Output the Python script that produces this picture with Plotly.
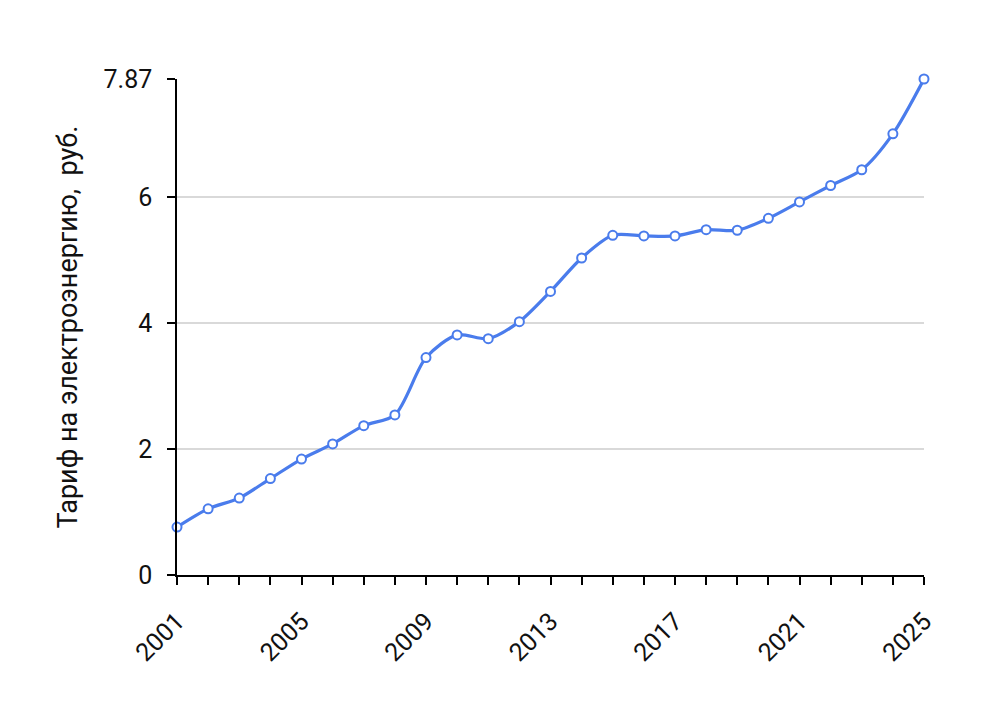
import plotly.graph_objects as go

# годы и тариф (руб.)
years = list(range(2001, 2026))
tariff = [0.76, 1.05, 1.22, 1.53, 1.84, 2.08, 2.37, 2.54, 3.45, 3.81,
          3.75, 4.02, 4.50, 5.03, 5.39, 5.38, 5.38, 5.48, 5.47, 5.66,
          5.92, 6.18, 6.43, 7.00, 7.87]

y_ticks = [0, 2, 4, 6, 7.87]
y_labels = ["0", "2", "4", "6", "7.87"]
x_labels = [str(y) if (y - 2001) % 4 == 0 else "" for y in years]

line_color = "#4a7cec"

fig = go.Figure()
fig.add_trace(go.Scatter(
    x=years, y=tariff,
    mode="lines+markers",
    line=dict(color=line_color, width=3.2, shape="spline", smoothing=0.8),
    marker=dict(size=9, color="white", line=dict(color=line_color, width=2)),
    cliponaxis=False,
    hoverinfo="x+y",
))

fig.update_layout(
    width=1000, height=716,
    margin=dict(l=169, r=84, t=71, b=149),
    paper_bgcolor="white", plot_bgcolor="white",
    font=dict(family="Roboto", size=25, color="#111111"),
    showlegend=False,
)
fig.update_xaxes(
    range=[2001, 2025],
    tickvals=years, ticktext=x_labels,
    tickangle=-45, ticklabelstandoff=12,
    ticks="outside", ticklen=8, tickcolor="black", tickwidth=1.5,
    showline=True, linecolor="black", linewidth=1.5,
    showgrid=False, zeroline=False,
)
fig.update_yaxes(
    range=[0, 7.87],
    tickvals=y_ticks, ticktext=y_labels,
    ticklabelstandoff=10,
    ticks="outside", ticklen=8, tickcolor="black", tickwidth=1.5,
    showline=True, linecolor="black", linewidth=1.5,
    showgrid=True, gridcolor="#d9d9d9", gridwidth=1.5,
    zeroline=False,
    title=dict(text="Тариф на электроэнергию,  руб.", standoff=18,
               font=dict(size=27)),
)

fig.write_html("out.html")
